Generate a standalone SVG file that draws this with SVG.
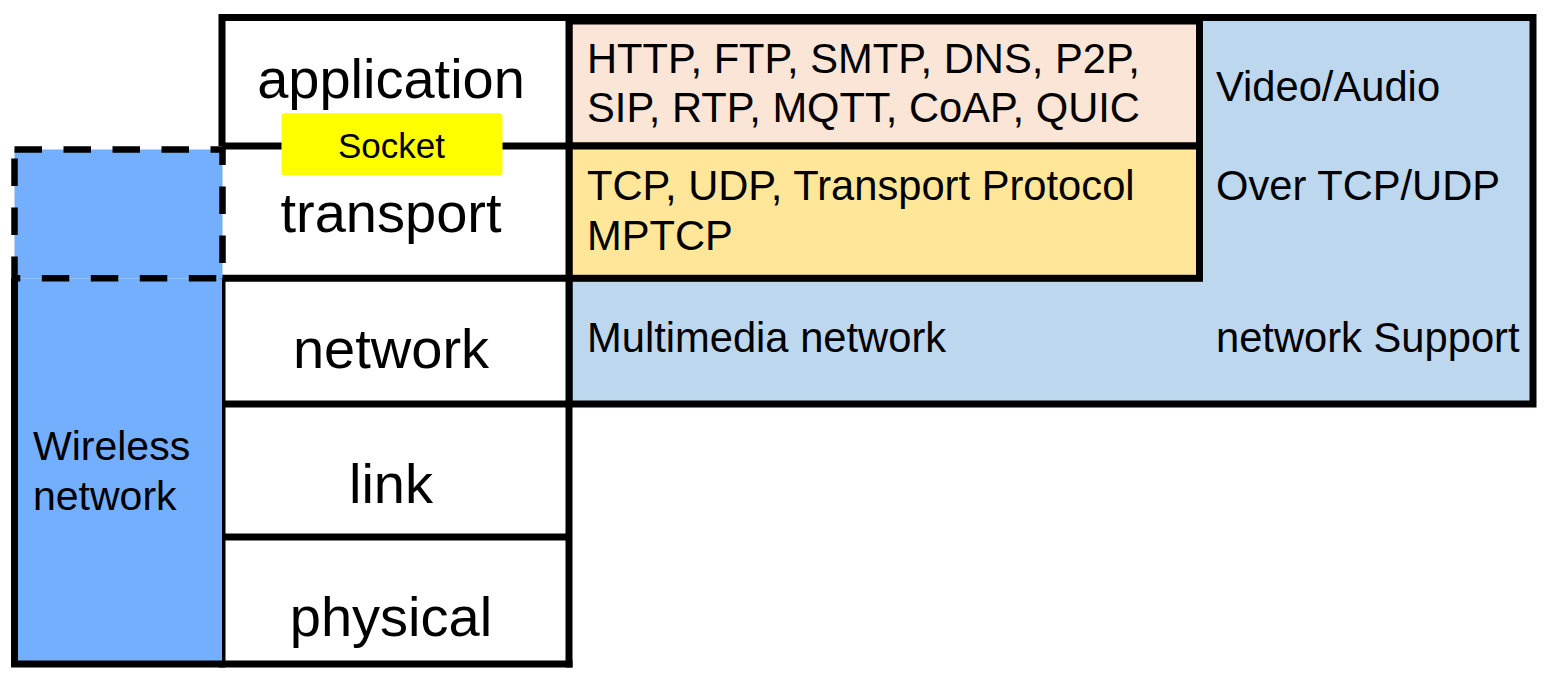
<svg xmlns="http://www.w3.org/2000/svg" width="1550" height="684" viewBox="0 0 1550 684">
<style>
.ln{stroke:#000;stroke-width:7;fill:none}
.bx{stroke:#000;stroke-width:7}
.lay{font-family:"Liberation Sans",Arial,sans-serif;font-size:56px;fill:#000;text-anchor:middle}
.t{font-family:"Liberation Sans",Arial,sans-serif;font-size:41.7px;fill:#000}
.w{font-family:"Liberation Sans",Arial,sans-serif;font-size:41px;fill:#000}
.sock{font-family:"Liberation Sans",Arial,sans-serif;font-size:35px;fill:#000;text-anchor:middle}
</style>
<rect width="1550" height="684" fill="#fff"/>
<g id="multimedia">
<rect x="569" y="17.5" width="964" height="386.5" fill="#BDD7EE" class="bx"/>
<text class="t" x="587" y="352">Multimedia network</text>
<text class="t" x="1216" y="100.5">Video/Audio</text>
<text class="t" x="1216" y="200">Over TCP/UDP</text>
<text class="t" x="1216" y="352">network Support</text>
</g>
<g id="app-protocols">
<rect x="569" y="21" width="630.5" height="125" fill="#FBE5D6" class="bx"/>
<text class="t" x="587" y="73">HTTP, FTP, SMTP, DNS, P2P,</text>
<text class="t" x="587" y="122">SIP, RTP, MQTT, CoAP, QUIC</text>
</g>
<g id="transport-protocols">
<rect x="569" y="146" width="630.5" height="132.3" fill="#FFE699" class="bx"/>
<text class="t" x="587" y="200">TCP, UDP, Transport Protocol</text>
<text class="t" x="587" y="250">MPTCP</text>
</g>
<g id="layers">
<rect x="222" y="17.5" width="347" height="646.5" fill="#fff"/>
<path class="ln" d="M218.5,17.5 H572.5 M222,14 V146 M222,278.3 V667.5 M569,14 V667.5 M222,146 H569 M222,278.3 H569 M222,404 H569 M222,537 H569"/>
<text class="lay" x="391" y="98">application</text>
<text class="lay" x="391" y="232">transport</text>
<text class="lay" x="391" y="368">network</text>
<text class="lay" x="391" y="503">link</text>
<text class="lay" x="391" y="636">physical</text>
</g>
<g id="wireless">
<rect x="14.5" y="278.3" width="207.5" height="385.7" fill="#74AFFD"/>
<path class="ln" d="M14.5,278.3 V664 H572.5"/>
<rect x="14.5" y="149.5" width="208" height="128.8" fill="#74AFFD" stroke="#000" stroke-width="6.5" stroke-dasharray="27.5 21.5"/>
<text class="w" x="33" y="460">Wireless</text>
<text class="w" x="33" y="510">network</text>
</g>
<g id="socket">
<rect x="281.5" y="113.3" width="221" height="62" rx="3" fill="#FFFF00"/>
<text class="sock" x="391.5" y="157.5">Socket</text>
</g>
<g id="connectors"></g>
</svg>
